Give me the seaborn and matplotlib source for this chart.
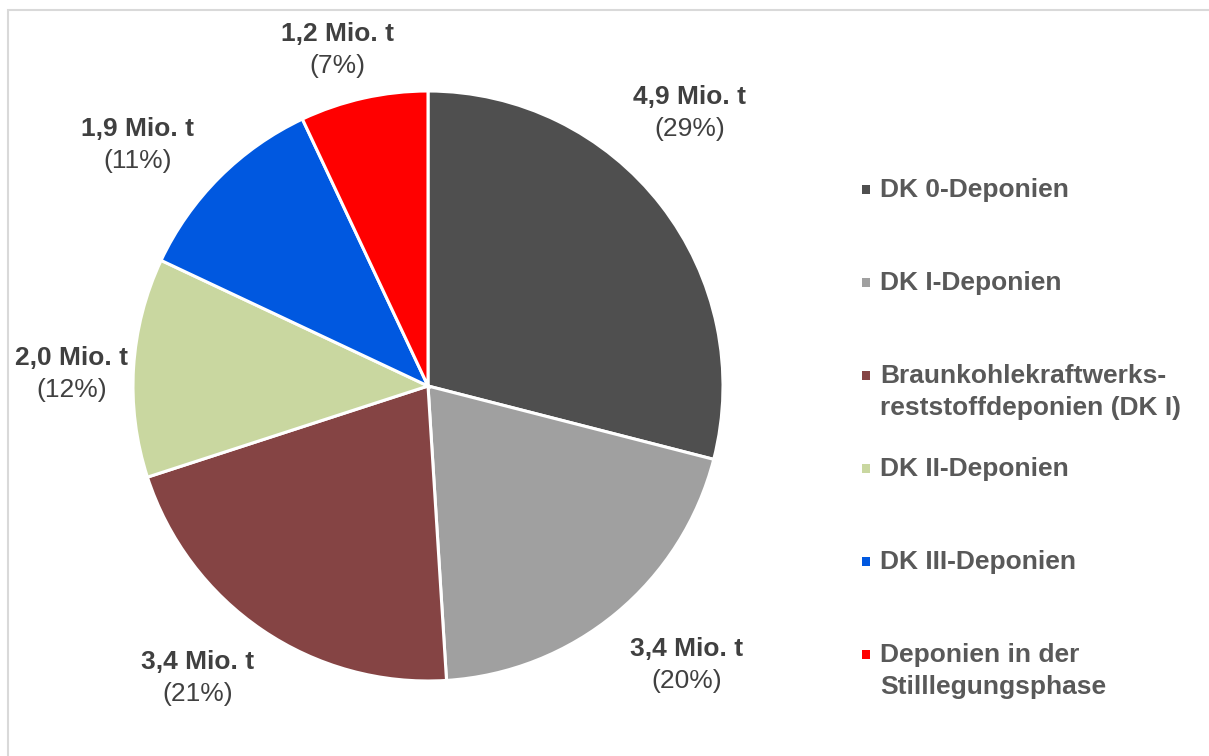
import matplotlib.pyplot as plt
import numpy as np
import seaborn as sns
from matplotlib.patches import Rectangle

sns.set_theme(style="white")
plt.rcParams["font.family"] = ["Liberation Sans", "DejaVu Sans"]

# Data
categories = [
    "DK 0-Deponien",
    "DK I-Deponien",
    "Braunkohlekraftwerks-\nreststoffdeponien (DK I)",
    "DK II-Deponien",
    "DK III-Deponien",
    "Deponien in der\nStilllegungsphase",
]
amounts = ["4,9", "3,4", "3,4", "2,0", "1,9", "1,2"]  # Mio. t
shares = [29, 20, 21, 12, 11, 7]  # percent
colors = ["#4f4f4f", "#a0a0a0", "#854444", "#c9d7a0", "#0058e0", "#ff0000"]

# label placement: distance from centre (radius = 1) and angle shift from mid-angle (deg)
label_dist = [1.28, 1.29, 1.26, 1.21, 1.28, 1.18]
label_shift = [8.4, 3.3, -4.1, 1.6, 5.3, 2.5]

W, H = 1209, 756
fig = plt.figure(figsize=(W / 100, H / 100), dpi=100)
fig.patch.set_facecolor("white")

# light grey frame of the chart area
fig.patches.append(
    Rectangle((8 / W, -0.05), 1.1, 1.05 - 10 / H, transform=fig.transFigure,
              fill=False, edgecolor="#d9d9d9", linewidth=1.5)
)

cx, cy, r = 428, H - 386, 295
ax = fig.add_axes([(cx - r) / W, (cy - r) / H, 2 * r / W, 2 * r / H])
wedges, _ = ax.pie(
    shares,
    colors=colors,
    startangle=90,
    counterclock=False,
    wedgeprops=dict(edgecolor="white", linewidth=2.2),
)
ax.set_xlim(-1, 1)
ax.set_ylim(-1, 1)
ax.set_aspect("equal")
ax.axis("off")

for w, amt, pct, d, s in zip(wedges, amounts, shares, label_dist, label_shift):
    ang = np.deg2rad((w.theta1 + w.theta2) / 2 + s)
    x, y = d * np.cos(ang), d * np.sin(ang)
    ax.annotate(f"{amt} Mio. t", (x, y), xytext=(0, 11.5), textcoords="offset points",
                ha="center", va="center", fontsize=19, fontweight="bold",
                color="#404040", annotation_clip=False)
    ax.annotate(f"({pct}%)", (x, y), xytext=(0, -11.5), textcoords="offset points",
                ha="center", va="center", fontsize=19, color="#404040",
                annotation_clip=False)

# legend, entries top-aligned on a fixed step like the original
top0, step = 178, 93
for i, (lab, col) in enumerate(zip(categories, colors)):
    ytop = top0 + i * step
    fig.patches.append(
        Rectangle((862 / W, 1 - (ytop + 16) / H), 8 / W, 9 / H,
                  transform=fig.transFigure, facecolor=col, edgecolor="none")
    )
    fig.text(880 / W, 1 - ytop / H, lab, ha="left", va="top", fontsize=19,
             fontweight="bold", color="#595959", linespacing=1.43)

fig.savefig("out.png", dpi=100, facecolor="white")
